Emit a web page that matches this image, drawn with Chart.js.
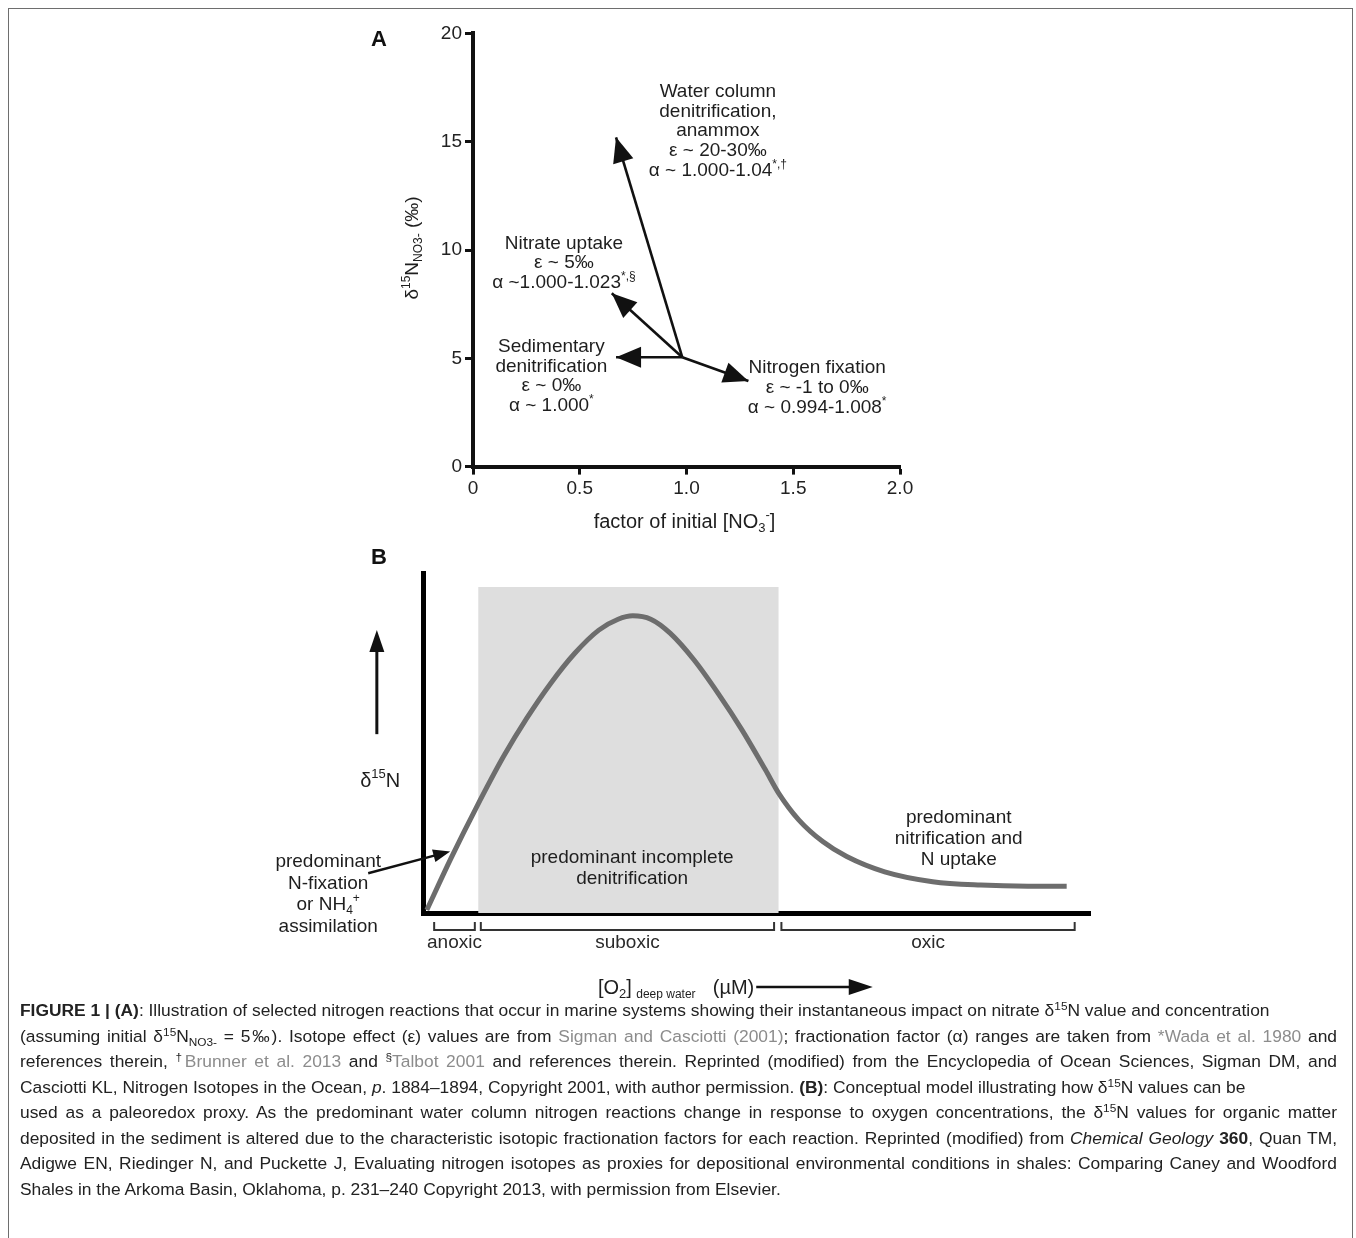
<!DOCTYPE html>
<html><head><meta charset="utf-8">
<script src="https://cdn.jsdelivr.net/npm/chart.js@4"></script>
<style>
html,body{margin:0;padding:0;background:#fff;overflow:hidden;width:1356px;height:1238px;}
#frame{position:absolute;left:8px;top:8px;width:1345px;height:1260px;border:1.5px solid #6e6e6e;box-sizing:border-box;}
#cA{position:absolute;left:0;top:0;}
#cB{position:absolute;left:0;top:540px;}
#caption{position:absolute;left:20px;top:998px;width:1317px;font-family:'Liberation Sans',Arial,sans-serif;font-size:17.4px;line-height:25.5px;color:#222;}
.ln{text-align:justify;text-align-last:justify;height:25.5px;white-space:nowrap;overflow:visible}
.ln.l{text-align-last:left}
.g{color:#8c8c8c}
sup{font-size:0.68em;line-height:0;vertical-align:0.55em}
sub{font-size:0.68em;line-height:0;vertical-align:-0.3em}
</style>
</head><body>
<div id="frame"></div>
<canvas id="cA" width="1356" height="540"></canvas>
<canvas id="cB" width="1356" height="460"></canvas>
<div id="caption">
<div class="ln l"><b>FIGURE 1 | (A)</b>: Illustration of selected nitrogen reactions that occur in marine systems showing their instantaneous impact on nitrate δ<sup>15</sup>N value and concentration</div>
<div class="ln">(assuming initial δ<sup>15</sup>N<sub>NO3-</sub> = 5‰). Isotope effect (ε) values are from <span class="g">Sigman and Casciotti (2001)</span>; fractionation factor (α) ranges are taken from <span class="g">*Wada et al. 1980</span> and</div>
<div class="ln">references therein, <sup>†</sup><span class="g">Brunner et al. 2013</span> and <sup>§</sup><span class="g">Talbot 2001</span> and references therein. Reprinted (modified) from the Encyclopedia of Ocean Sciences, Sigman DM, and</div>
<div class="ln l">Casciotti KL, Nitrogen Isotopes in the Ocean, <i>p</i>. 1884–1894, Copyright 2001, with author permission. <b>(B)</b>: Conceptual model illustrating how δ<sup>15</sup>N values can be</div>
<div class="ln">used as a paleoredox proxy. As the predominant water column nitrogen reactions change in response to oxygen concentrations, the δ<sup>15</sup>N values for organic matter</div>
<div class="ln">deposited in the sediment is altered due to the characteristic isotopic fractionation factors for each reaction. Reprinted (modified) from <i>Chemical Geology</i> <b>360</b>, Quan TM,</div>
<div class="ln">Adigwe EN, Riedinger N, and Puckette J, Evaluating nitrogen isotopes as proxies for depositional environmental conditions in shales: Comparing Caney and Woodford</div>
<div class="ln l">Shales in the Arkoma Basin, Oklahoma, p. 231–240 Copyright 2013, with permission from Elsevier.</div>
</div>
<script>
// ---------------- DATA ----------------
// Panel A
const xTickLabelsA = ['0', '0.5', '1.0', '1.5', '2.0'];
const yTickLabelsA = ['0', '5', '10', '15', '20'];
const reactionNames = ['Water column denitrification, anammox', 'Nitrate uptake', 'Sedimentary denitrification', 'Nitrogen fixation'];
const arrowOriginX = 0.98;
const arrowOriginY = 5.05;
const arrowTipX = [0.67, 0.65, 0.67, 1.29];
const arrowTipY = [15.2, 8.0, 5.05, 3.95];

// Panel B (conceptual curve, arbitrary units 0-100)
const curveX = [0.5, 4.1, 8.0, 12.0, 15.5, 19.1, 22.7, 26.3, 29.2, 31.4, 34.1, 37.0, 40.6, 44.2, 47.8, 51.3, 53.3, 56.3, 59.9, 63.5, 69.2, 76.4, 83.6, 90.7, 96.5];
const curveY = [0.9, 16.0, 31.3, 46.0, 57.3, 67.6, 76.4, 83.2, 86.4, 87.4, 86.4, 82.3, 74.4, 64.6, 53.8, 42.1, 35.2, 27.4, 21.0, 16.6, 12.1, 9.2, 8.2, 7.9, 7.9];
const suboxicShadeX = [8.2, 8.2, 53.3, 53.3];
const suboxicShadeY = [0, 95.9, 95.9, 0];
const zoneNames = ['anoxic', 'suboxic', 'oxic'];
const zoneStart = [1.6, 8.6, 53.7];
const zoneEnd = [7.7, 52.6, 97.7];

// ---------------- HELPERS ----------------
const FAM = "'Liberation Sans', Arial, sans-serif";
const TXT = '#1e1e1e';
function fontFor(kind, size) {
  if (kind === 'sup' || kind === 'sub') return `${Math.round(size * 0.63)}px ${FAM}`;
  if (kind === 'small') return `${Math.round(size * 0.6)}px ${FAM}`;
  if (kind === 'b') return `bold ${size}px ${FAM}`;
  return `${size}px ${FAM}`;
}
function richWidth(ctx, segs, size) {
  let w = 0;
  for (const s of segs) { ctx.font = fontFor(s[1], size); w += ctx.measureText(s[0]).width; }
  return w;
}
function drawRich(ctx, segs, x, y, size, align, color) {
  const w = richWidth(ctx, segs, size);
  let cx = align === 'center' ? x - w / 2 : (align === 'right' ? x - w : x);
  ctx.save();
  ctx.textBaseline = 'middle'; ctx.textAlign = 'left'; ctx.fillStyle = color || TXT;
  for (const s of segs) {
    const k = s[1];
    ctx.font = fontFor(k, size);
    const dy = k === 'sup' ? -size * 0.33 : (k === 'sub' ? size * 0.32 : (k === 'small' ? size * 0.3 : 0));
    ctx.fillText(s[0], cx, y + dy);
    cx += ctx.measureText(s[0]).width;
  }
  ctx.restore();
  return cx;
}
function arrowHead(ctx, x0, y0, x1, y1, len, half, color) {
  const a = Math.atan2(y1 - y0, x1 - x0);
  const bx = x1 - len * Math.cos(a), by = y1 - len * Math.sin(a);
  const px = -Math.sin(a), py = Math.cos(a);
  ctx.save();
  ctx.fillStyle = color;
  ctx.beginPath();
  ctx.moveTo(x1, y1);
  ctx.lineTo(bx + half * px, by + half * py);
  ctx.lineTo(bx - half * px, by - half * py);
  ctx.closePath();
  ctx.fill();
  ctx.restore();
}
function arrow(ctx, x0, y0, x1, y1, lw, len, half, color) {
  const a = Math.atan2(y1 - y0, x1 - x0);
  ctx.save();
  ctx.strokeStyle = color; ctx.lineWidth = lw;
  ctx.beginPath(); ctx.moveTo(x0, y0);
  ctx.lineTo(x1 - (len * 0.8) * Math.cos(a), y1 - (len * 0.8) * Math.sin(a));
  ctx.stroke();
  ctx.restore();
  arrowHead(ctx, x0, y0, x1, y1, len, half, color);
}

Chart.defaults.font.family = FAM;
Chart.defaults.color = TXT;
Chart.defaults.animation = false;

// ---------------- PANEL A ----------------
const labelsA = [
  { x: 1.147, y: 17.31, lines: [[['Water column']], [['denitrification,']], [['anammox']], [['ε ~ 20-30‰']], [['α ~ 1.000-1.04'], ['*,†', 'sup']]] },
  { x: 0.426, y: 10.31, lines: [[['Nitrate uptake']], [['ε ~ 5‰']], [['α ~1.000-1.023'], ['*,§', 'sup']]] },
  { x: 0.367, y: 5.54, lines: [[['Sedimentary']], [['denitrification']], [['ε ~ 0‰']], [['α ~ 1.000'], ['*', 'sup']]] },
  { x: 1.612, y: 4.54, lines: [[['Nitrogen fixation']], [['ε ~ -1 to 0‰']], [['α ~ 0.994-1.008'], ['*', 'sup']]] }
];

const pluginA = {
  id: 'annotA',
  afterDatasetsDraw(chart) {
    const ctx = chart.ctx;
    chart.data.datasets.forEach((ds, i) => {
      const meta = chart.getDatasetMeta(i);
      const p0 = meta.data[0], p1 = meta.data[1];
      arrowHead(ctx, p0.x, p0.y, p1.x, p1.y, 25, 10.5, '#111');
    });
  },
  afterDraw(chart) {
    const ctx = chart.ctx;
    const xs = chart.scales.x, ys = chart.scales.y;
    labelsA.forEach(l => {
      const px = xs.getPixelForValue(l.x), py = ys.getPixelForValue(l.y);
      l.lines.forEach((segs, j) => drawRich(ctx, segs, px, py + j * 19.8, 19, 'center'));
    });
    // panel letter
    ctx.save(); ctx.font = `bold 22px ${FAM}`; ctx.fillStyle = '#111'; ctx.textBaseline = 'middle'; ctx.textAlign = 'center';
    ctx.fillText('A', 379, 40); ctx.restore();
    // axis titles
    drawRich(ctx, [['factor of initial [NO'], ['3', 'sub'], ['-', 'sup'], [']']], (chart.chartArea.left + chart.chartArea.right) / 2 - 2, 522, 20, 'center');
    ctx.save();
    ctx.translate(413, 248); ctx.rotate(-Math.PI / 2);
    drawRich(ctx, [['δ'], ['15', 'sup'], ['N'], ['NO3-', 'sub'], [' (‰)']], 0, 0, 19, 'center');
    ctx.restore();
  }
};

new Chart(document.getElementById('cA'), {
  type: 'scatter',
  data: {
    datasets: arrowTipX.map((tx, i) => ({
      label: reactionNames[i],
      data: [{ x: arrowOriginX, y: arrowOriginY }, { x: tx, y: arrowTipY[i] }],
      showLine: true, borderColor: '#111', borderWidth: 2.6, pointRadius: 0, tension: 0
    }))
  },
  options: {
    responsive: false, devicePixelRatio: 1,
    layout: { padding: { left: 413, right: 456, top: 33.4, bottom: 33.4 } },
    plugins: { legend: { display: false }, tooltip: { enabled: false } },
    scales: {
      x: {
        type: 'linear', min: 0, max: 2,
        ticks: { stepSize: 0.5, callback: (v, i) => xTickLabelsA[i], font: { size: 19 }, color: '#222', padding: 3, maxRotation: 0 },
        grid: { display: true, drawOnChartArea: false, drawTicks: true, tickLength: 8, tickWidth: 3, tickColor: '#111', color: '#111' },
        border: { display: true, color: '#111', width: 4 },
        afterFit: s => { s.height = 40; }
      },
      y: {
        type: 'linear', min: 0, max: 20,
        ticks: { stepSize: 5, callback: (v, i) => yTickLabelsA[i], font: { size: 19 }, color: '#222', padding: 3 },
        grid: { display: true, drawOnChartArea: false, drawTicks: true, tickLength: 8, tickWidth: 3, tickColor: '#111', color: '#111' },
        border: { display: true, color: '#111', width: 4 },
        afterFit: s => { s.width = 60; }
      }
    }
  },
  plugins: [pluginA]
});

// ---------------- PANEL B ----------------
const labelsB = [
  { x: 31.3, y: 16.2, gap: 21, lines: [[['predominant incomplete']], [['denitrification']]] },
  { x: 80.3, y: 27.9, gap: 21, lines: [[['predominant']], [['nitrification and']], [['N uptake']]] },
  { x: -14.3, y: 15.0, gap: 21.5, lines: [[['predominant']], [['N-fixation']], [['or NH'], ['4', 'sub'], ['+', 'sup']], [['assimilation']]] },
  { x: -6.5, y: 38.8, gap: 0, lines: [[['δ'], ['15', 'sup'], ['N']]] }
];

const pluginB = {
  id: 'annotB',
  afterDraw(chart) {
    const ctx = chart.ctx;
    const xs = chart.scales.x, ys = chart.scales.y;
    const ca = chart.chartArea;
    // corner fill for axis join
    ctx.save(); ctx.fillStyle = '#000'; ctx.fillRect(ca.left - 2.5, ca.bottom - 2.5, 5, 5); ctx.restore();
    // zone brackets
    ctx.save();
    ctx.strokeStyle = '#333'; ctx.lineWidth = 2;
    zoneNames.forEach((n, i) => {
      const a = xs.getPixelForValue(zoneStart[i]), b = xs.getPixelForValue(zoneEnd[i]);
      const t = ca.bottom + 9, bt = ca.bottom + 17;
      ctx.beginPath(); ctx.moveTo(a, t); ctx.lineTo(a, bt); ctx.lineTo(b, bt); ctx.lineTo(b, t); ctx.stroke();
      drawRich(ctx, [[n]], (a + b) / 2, ca.bottom + 30, 19, 'center', '#2a2a2a');
    });
    ctx.restore();
    // text labels
    labelsB.forEach(l => {
      const px = xs.getPixelForValue(l.x), py = ys.getPixelForValue(l.y);
      l.lines.forEach((segs, j) => drawRich(ctx, segs, px, py + j * l.gap, l.x === -6.5 ? 20 : 19, 'center'));
    });
    // pointer arrow (N-fixation)
    arrow(ctx, xs.getPixelForValue(-8.3), ys.getPixelForValue(11.7), xs.getPixelForValue(4.0), ys.getPixelForValue(18.1), 2.4, 17, 6.5, '#111');
    // vertical arrow for δ15N increase
    arrow(ctx, xs.getPixelForValue(-7.0), ys.getPixelForValue(52.6), xs.getPixelForValue(-7.0), ys.getPixelForValue(83.2), 3, 22, 7.5, '#111');
    // panel letter
    ctx.save(); ctx.font = `bold 22px ${FAM}`; ctx.fillStyle = '#111'; ctx.textBaseline = 'middle'; ctx.textAlign = 'center';
    ctx.fillText('B', 379, 18); ctx.restore();
    // axis title
    const ty = ca.bottom + 75;
    let cx = drawRich(ctx, [['[O'], ['2', 'sub'], [']']], 598, ty, 20, 'left');
    cx = drawRich(ctx, [[' deep water', 'small']], cx + 1, ty + 1, 20, 'left');
    cx = drawRich(ctx, [['  (µM)']], cx + 6, ty, 20, 'left');
    arrow(ctx, cx + 2, ty - 1, xs.getPixelForValue(67.4), ty - 1, 2.6, 24, 8, '#111');
  }
};

new Chart(document.getElementById('cB'), {
  type: 'line',
  data: {
    datasets: [
      {
        label: 'δ15N',
        data: curveX.map((x, i) => ({ x: x, y: curveY[i] })),
        borderColor: '#6d6d6d', borderWidth: 5, pointRadius: 0,
        cubicInterpolationMode: 'monotone', fill: false, order: 0
      },
      {
        label: 'predominant incomplete denitrification',
        data: suboxicShadeX.map((x, i) => ({ x: x, y: suboxicShadeY[i] })),
        borderWidth: 0, borderColor: 'rgba(0,0,0,0)', backgroundColor: '#dedede',
        pointRadius: 0, tension: 0, fill: 'origin', order: 1
      }
    ]
  },
  options: {
    responsive: false, devicePixelRatio: 1,
    layout: { padding: { left: 413.5, right: 266, top: 33, bottom: 77 } },
    plugins: { legend: { display: false }, tooltip: { enabled: false }, filler: { propagate: false } },
    scales: {
      x: {
        type: 'linear', min: 0, max: 100,
        ticks: { display: false },
        grid: { display: false },
        border: { display: true, color: '#000', width: 5 },
        afterFit: s => { s.height = 10; }
      },
      y: {
        type: 'linear', min: 0, max: 100,
        ticks: { display: false },
        grid: { display: false },
        border: { display: true, color: '#000', width: 5 },
        afterFit: s => { s.width = 10; }
      }
    }
  },
  plugins: [pluginB]
});
</script>
</body></html>
